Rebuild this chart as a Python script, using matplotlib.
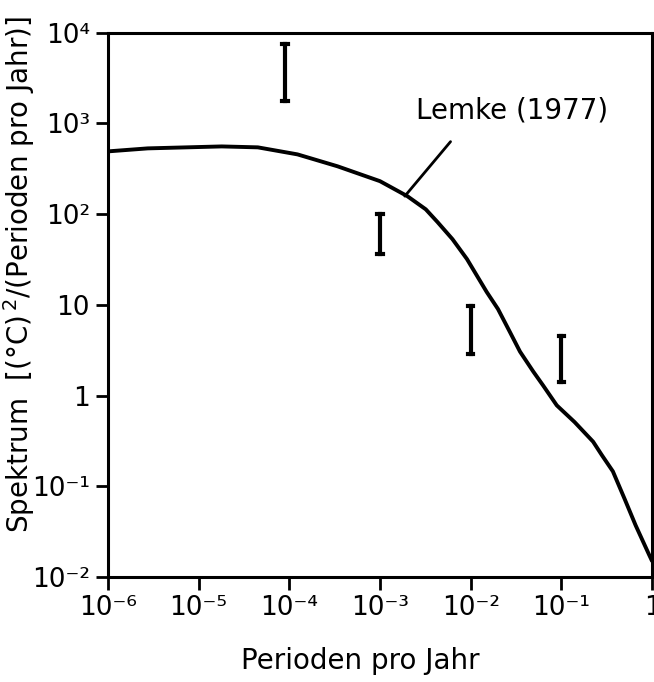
import matplotlib
matplotlib.use("Agg")
from matplotlib import pyplot as plt

# Lemke (1977) Spektrum
freq = [1e-6, 2.75e-6, 1.8e-5, 4.5e-5, 1.23e-4, 3.4e-4, 1e-3, 2e-3, 3.2e-3, 4.3e-3,
        6.3e-3, 9.1e-3, 1.5e-2, 2.0e-2, 2.7e-2, 3.5e-2, 4.9e-2, 6.3e-2, 8.9e-2,
        0.14, 0.224, 0.28, 0.37, 0.5, 0.66, 0.93, 1.0]
spec = [492, 531, 558, 545, 456, 337, 231, 158, 113, 82,
        53, 32, 13.9, 9.0, 5.05, 3.05, 1.84, 1.29, 0.78,
        0.51, 0.31, 0.22, 0.146, 0.072, 0.037, 0.0175, 0.015]

# Fehlerbalken (Messwerte)
bar_x = [9e-5, 1e-3, 1e-2, 1e-1]
bar_lo = [1780, 36, 2.9, 1.4]
bar_hi = [7600, 100, 9.8, 4.5]

xticks = [1e-6, 1e-5, 1e-4, 1e-3, 1e-2, 1e-1, 1]
xlabels = ['10⁻⁶', '10⁻⁵', '10⁻⁴', '10⁻³', '10⁻²', '10⁻¹', '1']
yticks = [1e-2, 1e-1, 1, 10, 1e2, 1e3, 1e4]
ylabels = ['10⁻²', '10⁻¹', '1', '10', '10²', '10³', '10⁴']

plt.rcParams['font.family'] = 'DejaVu Sans'
plt.rcParams['mathtext.default'] = 'regular'

fig = plt.figure(figsize=(6.54, 6.82), dpi=100)
ax = fig.add_axes([0.165, 0.154, 0.832, 0.798])

ax.plot(freq, spec, color='black', linewidth=2.8, solid_capstyle='round',
        solid_joinstyle='round')

for x, lo, hi in zip(bar_x, bar_lo, bar_hi):
    ax.plot([x, x], [lo, hi], color='black', linewidth=3)
    ax.plot([x / 1.07, x * 1.07], [lo, lo], color='black', linewidth=3)
    ax.plot([x / 1.07, x * 1.07], [hi, hi], color='black', linewidth=3)

ax.set_xscale('log')
ax.set_yscale('log')
ax.set_xlim(1e-6, 1)
ax.set_ylim(1e-2, 1e4)
ax.set_xticks(xticks)
ax.set_xticklabels(xlabels)
ax.set_yticks(yticks)
ax.set_yticklabels(ylabels)
ax.minorticks_off()
ax.tick_params(axis='both', which='major', direction='out', length=9, width=2,
               labelsize=19, pad=4)
for s in ax.spines.values():
    s.set_linewidth(2.2)

ax.set_xlabel('Perioden pro Jahr', fontsize=20)
ax.xaxis.set_label_coords(0.463, -0.128)
ax.set_ylabel('Spektrum  [(°C)$^{\\,2}$/(Perioden pro Jahr)]', fontsize=20)
ax.yaxis.set_label_coords(-0.13, 0.555)

ax.text(2.5e-3, 1400, 'Lemke (1977)', fontsize=20, ha='left', va='center')
ax.annotate('', xy=(1.88e-3, 158), xytext=(6e-3, 630),
            arrowprops=dict(arrowstyle='-', color='black', linewidth=2,
                            shrinkA=0, shrinkB=0))

fig.savefig('out.png', dpi=100)
